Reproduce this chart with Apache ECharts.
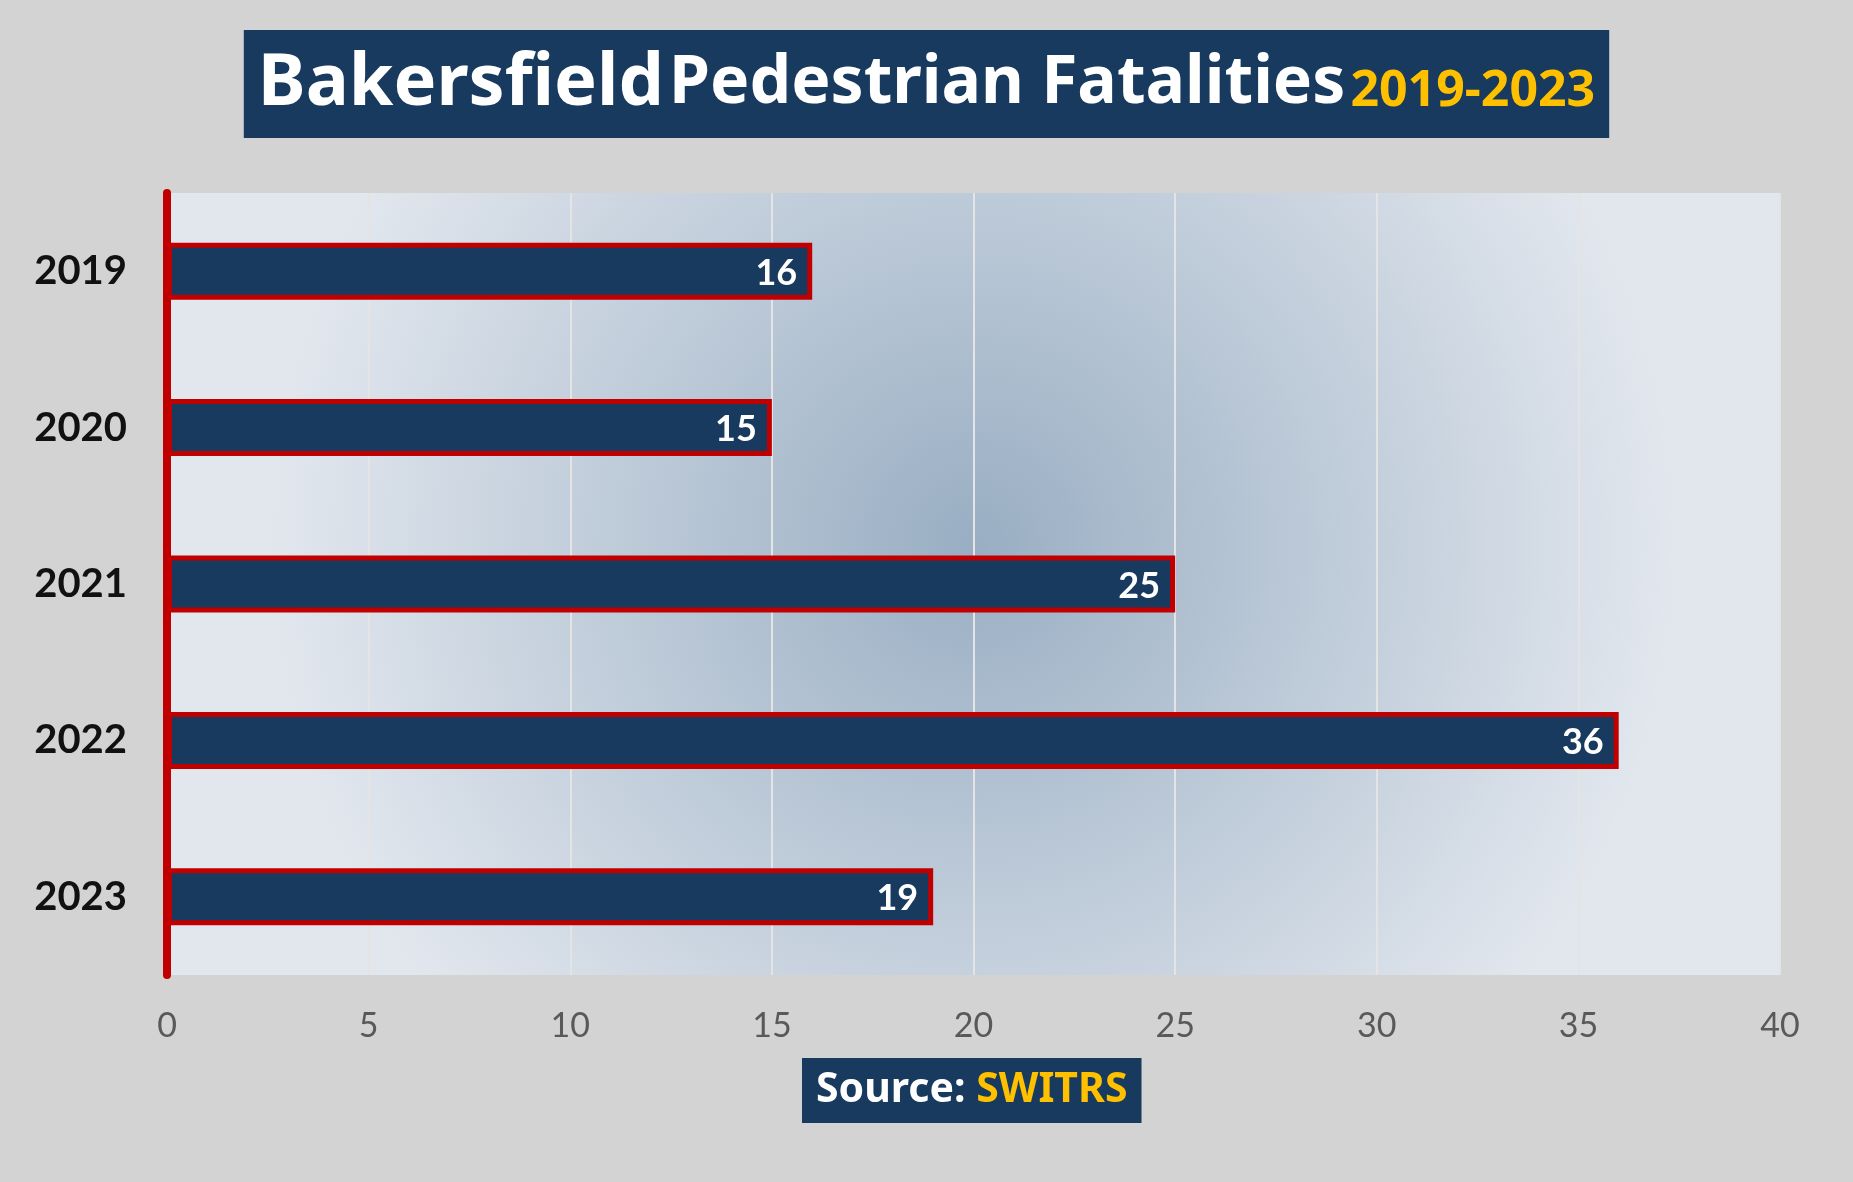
<!DOCTYPE html>
<html><head><meta charset="utf-8">
<script src="https://cdn.jsdelivr.net/npm/echarts@6/dist/echarts.min.js"></script>
<style>html,body{margin:0;padding:0;background:#d3d3d3}#c{width:1853px;height:1182px}</style>
</head><body><div id="c"></div>
<script>
const categories = ['2019','2020','2021','2022','2023'];
const values = [16,15,25,36,19];
const xTicks = [0,5,10,15,20,25,30,35,40];
const chart = echarts.init(document.getElementById('c'));
const F = '"Noto Sans", Lato, sans-serif';
const FL = 'Lato, "Noto Sans", sans-serif';
chart.setOption({
  backgroundColor:'#d3d3d3',
  title:[{
    left:'center', top:30,
    text:'{a|Bakersfield} {b|Pedestrian Fatalities} {c|2019-2023}',
    backgroundColor:'#173a5e', padding:[18,14,18,14],
    textStyle:{rich:{
      a:{fontFamily:F,fontWeight:'bold',fontSize:72,color:'#fff'},
      b:{fontFamily:F,fontWeight:'bold',fontSize:66,color:'#fff'},
      c:{fontFamily:F,fontWeight:'bold',fontSize:50,color:'#ffc000',padding:[16,0,0,0]}
    }}
  },{
    left:802, top:1058,
    text:'{a|Source: }{c|SWITRS}',
    backgroundColor:'#173a5e', padding:[12,14,12,14],
    textStyle:{rich:{
      a:{fontFamily:F,fontWeight:'bold',fontSize:41,color:'#fff'},
      c:{fontFamily:F,fontWeight:'bold',fontSize:41,color:'#ffc000'}
    }}
  }],
  grid:{left:167,right:73,top:193,bottom:207,show:true,borderWidth:0,
    backgroundColor:{type:'radial',x:0.5,y:0.45,r:0.9,colorStops:[{offset:0,color:'#99aec3'},{offset:1,color:'#e2e7ee'}]}},
  xAxis:{type:'value',min:0,max:40,interval:5,
    axisLine:{show:false},axisTick:{show:false},
    splitLine:{lineStyle:{color:'#e4e4e4',width:2}},
    axisLabel:{color:'#595959',fontSize:34,fontFamily:FL,margin:34,
      formatter:v=>xTicks.includes(v)?String(v):''}},
  yAxis:{type:'category',data:categories,inverse:true,
    axisLine:{lineStyle:{color:'#c00000',width:8}},axisTick:{show:false},
    axisLabel:{color:'#111',fontSize:40,fontWeight:'bold',fontFamily:FL,margin:40}},
  series:[{type:'bar',data:values,barWidth:57,
    itemStyle:{color:'#173a5e',borderColor:'#c00000',borderWidth:5},
    label:{show:true,position:'insideRight',color:'#fff',fontSize:36,fontWeight:'bold',fontFamily:FL,offset:[-10,2]}}]
});
</script></body></html>
